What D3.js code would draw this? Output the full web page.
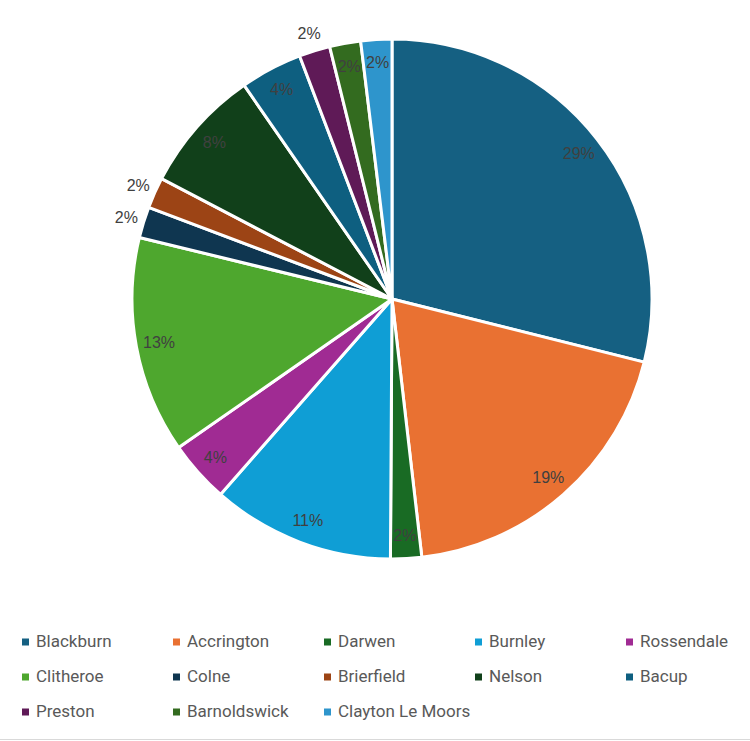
<!DOCTYPE html>
<html>
<head>
<meta charset="utf-8">
<script src="https://cdn.jsdelivr.net/npm/d3@7"></script>
<style>
  body { margin: 0; background: #fff; }
  svg { display: block; }
</style>
</head>
<body>
<div id="pie"></div>
<script>
// data
const TOWNS = ["Blackburn", "Accrington", "Darwen", "Burnley", "Rossendale", "Clitheroe",
               "Colne", "Brierfield", "Nelson", "Bacup", "Preston", "Barnoldswick", "Clayton Le Moors"];
const COUNTS = [15, 10, 1, 5.9, 2, 7, 1, 1, 4, 2, 1, 1, 1];
const COLOURS = ["#156082", "#E97132", "#196B24", "#0F9ED5", "#A02B93", "#4EA72E",
                 "#0F3650", "#9C4415", "#11401A", "#0E5F80", "#5F1A57", "#336B1F", "#2E95CC"];
// labels that sit outside the pie
const OUTSIDE = ["Colne", "Brierfield", "Preston"];

const FRAME_WIDTH = 750;
const FRAME_HEIGHT = 741;
const CX = 392, CY = 299, R = 260;

const FRAME = d3.select("#pie")
                .append("svg")
                  .attr("width", FRAME_WIDTH)
                  .attr("height", FRAME_HEIGHT);

const data = TOWNS.map((t, i) => ({ town: t, value: COUNTS[i] }));
const total = d3.sum(COUNTS);

const COLOR = d3.scaleOrdinal().domain(TOWNS).range(COLOURS);

const pie = d3.pie().sort(null).value(d => d.value);
const arc = d3.arc().innerRadius(0).outerRadius(R);
const inLabel = d3.arc().innerRadius(237).outerRadius(237);
const outLabel = d3.arc().innerRadius(278).outerRadius(278);

const G = FRAME.append("g").attr("transform", "translate(" + CX + "," + CY + ")");

const arcs = pie(data);

// slices
G.selectAll(".slice")
  .data(arcs)
  .enter()
  .append("path")
    .attr("class", "slice")
    .attr("d", arc)
    .attr("fill", d => COLOR(d.data.town))
    .attr("stroke", "#fff")
    .attr("stroke-width", 3)
    .attr("stroke-linejoin", "round");

// percentage labels
G.selectAll(".lbl")
  .data(arcs)
  .enter()
  .append("text")
    .attr("class", "lbl")
    .attr("transform", d => "translate(" +
        (OUTSIDE.includes(d.data.town) ? outLabel : inLabel).centroid(d) + ")")
    .attr("text-anchor", "middle")
    .attr("dy", "0.35em")
    .attr("font-family", "Liberation Sans, Arial, sans-serif")
    .attr("font-size", "16px")
    .attr("fill", "#404040")
    .text(d => Math.round(d.data.value / total * 100) + "%");

// legend
const COL_X = d3.scaleBand().domain(d3.range(5)).range([22, 777]);
const ROW_Y = d3.scaleBand().domain(d3.range(3)).range([624, 729]);

const LEG = FRAME.selectAll(".leg")
  .data(TOWNS)
  .enter()
  .append("g")
    .attr("class", "leg")
    .attr("transform", (d, i) => "translate(" + COL_X(i % 5) + "," + (ROW_Y(Math.floor(i / 5)) + ROW_Y.bandwidth() / 2) + ")");

LEG.append("rect")
    .attr("x", 0)
    .attr("y", -3)
    .attr("width", 7)
    .attr("height", 7)
    .attr("fill", d => COLOR(d));

LEG.append("text")
    .attr("x", 14)
    .attr("dy", "0.35em")
    .attr("font-family", "Roboto, sans-serif")
    .attr("font-size", "17px")
    .attr("fill", "#595959")
    .text(d => d);

// bottom border line
FRAME.append("line")
    .attr("x1", 0).attr("x2", FRAME_WIDTH)
    .attr("y1", 739.5).attr("y2", 739.5)
    .attr("stroke", "#d9d9d9")
    .attr("stroke-width", 1);
</script>
</body>
</html>
